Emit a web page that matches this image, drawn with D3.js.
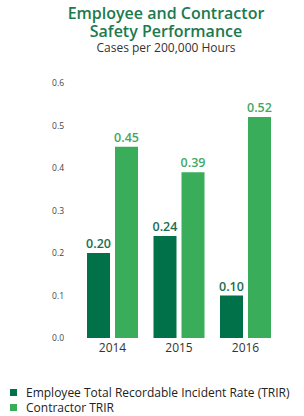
<!DOCTYPE html>
<html>
<head>
<meta charset="utf-8">
<script src="https://cdn.jsdelivr.net/npm/d3@7"></script>
<style>
  body { margin: 0; background: #fff; }
  text { font-family: "Open Sans", "Noto Sans", sans-serif; }
</style>
</head>
<body>
<div id="chart"></div>
<script>
var years = ["2014", "2015", "2016"];
var employee = [0.20, 0.24, 0.10];
var contractor = [0.45, 0.39, 0.52];
var seriesNames = ["Employee Total Recordable Incident Rate (TRIR)", "Contractor TRIR"];
var yTicks = [0.0, 0.1, 0.2, 0.3, 0.4, 0.5, 0.6];

var W = 304, H = 416;
var DARK = "#007148", LIGHT = "#3aad5b";

var svg = d3.select("#chart")
  .append("svg")
    .attr("width", W)
    .attr("height", H);

// titles
svg.append("text")
    .attr("x", 166).attr("y", 19)
    .attr("text-anchor", "middle")
    .attr("font-size", 16).attr("font-weight", 600)
    .attr("fill", "#1b7a4e")
    .text("Employee and Contractor");
svg.append("text")
    .attr("x", 166).attr("y", 37)
    .attr("text-anchor", "middle")
    .attr("font-size", 16).attr("font-weight", 600)
    .attr("fill", "#1b7a4e")
    .text("Safety Performance");
svg.append("text")
    .attr("x", 166).attr("y", 52)
    .attr("text-anchor", "middle")
    .attr("font-size", 12)
    .attr("fill", "#333")
    .text("Cases per 200,000 Hours");

var y = d3.scaleLinear().domain([0, 0.6]).range([338, 83]);
var x0 = d3.scaleBand().domain(years).range([73.7, 284.3]).paddingInner(0.233).paddingOuter(0.2);
var x1 = d3.scaleBand().domain([0, 1]).range([0, x0.bandwidth()]).paddingInner(0.1786);

// y axis labels only
var yAxis = d3.axisLeft(y).tickValues(yTicks).tickFormat(d3.format(".1f")).tickSize(0).tickPadding(0);
var gy = svg.append("g").attr("transform", "translate(64,0)").call(yAxis);
gy.select(".domain").remove();
gy.selectAll("text")
    .attr("font-family", "'Open Sans', sans-serif")
    .attr("font-size", 8.5)
    .attr("fill", "#444");

// x axis labels
var xAxis = d3.axisBottom(x0).tickSize(0).tickPadding(0);
var gx = svg.append("g").attr("transform", "translate(0,343)").call(xAxis);
gx.select(".domain").remove();
gx.selectAll("text")
    .attr("font-family", "'Open Sans', sans-serif")
    .attr("font-size", 12)
    .attr("fill", "#333");

var series = [employee, contractor];
var colors = [DARK, LIGHT];
var labelColors = ["#1a6e4e", "#43a862"];

series.forEach(function(vals, s) {
  var g = svg.append("g");
  g.selectAll("rect").data(vals).enter()
    .append("rect")
      .attr("x", function(d, i) { return x0(years[i]) + x1(s); })
      .attr("y", function(d) { return y(d); })
      .attr("width", x1.bandwidth())
      .attr("height", function(d) { return y(0) - y(d); })
      .attr("fill", colors[s]);
  g.selectAll("text").data(vals).enter()
    .append("text")
      .attr("x", function(d, i) { return x0(years[i]) + x1(s) + x1.bandwidth() / 2; })
      .attr("y", function(d) { return y(d) - 5; })
      .attr("text-anchor", "middle")
      .attr("font-size", 12.5).attr("font-weight", 600)
      .attr("fill", labelColors[s])
      .text(function(d) { return d3.format(".2f")(d); });
});

// legend
var leg = svg.append("g").selectAll("g").data(seriesNames).enter()
  .append("g")
    .attr("transform", function(d, i) { return "translate(10," + (389 + i * 15) + ")"; });
leg.append("rect")
    .attr("width", 7).attr("height", 7)
    .attr("fill", function(d, i) { return colors[i]; });
leg.append("text")
    .attr("x", 16).attr("y", 7.5)
    .attr("font-size", 12)
    .attr("fill", "#222")
    .text(function(d) { return d; });
</script>
</body>
</html>
